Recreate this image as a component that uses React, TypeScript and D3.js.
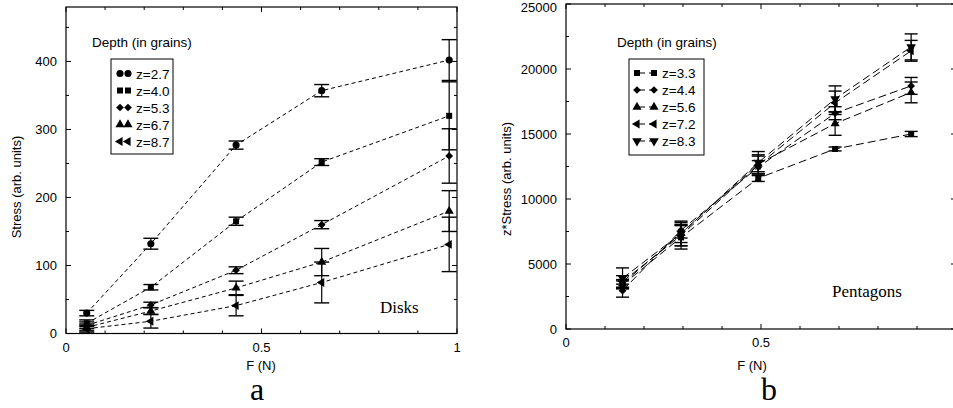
import React from "react";
import * as d3 from "d3";

// ---------- Data ----------
const disksF = [0.053, 0.217, 0.435, 0.654, 0.98];
const disksSeries = ["z=2.7", "z=4.0", "z=5.3", "z=6.7", "z=8.7"];
const disksMarkers = ["circle", "square", "diamond", "triangle", "left"];
const disksZ27 = [30, 132, 277, 357, 402];
const disksZ40 = [15, 68, 165, 252, 320];
const disksZ53 = [12, 42, 93, 160, 261];
const disksZ67 = [9, 33, 67, 105, 180];
const disksZ87 = [7, 18, 41, 75, 131];
const disksErr27 = [4, 8, 6, 9, 30];
const disksErr40 = [5, 4, 6, 5, 50];
const disksErr53 = [5, 4, 5, 6, 40];
const disksErr67 = [5, 5, 10, 20, 30];
const disksErr87 = [5, 10, 15, 30, 40];
const disksYTicks = [0, 100, 200, 300, 400];
const disksXTicks = [0, 0.5, 1];

const pentF = [0.145, 0.295, 0.493, 0.69, 0.885];
const pentSeries = ["z=3.3", "z=4.4", "z=5.6", "z=7.2", "z=8.3"];
const pentMarkers = ["square", "diamond", "triangle", "left", "down"];
const pentZ33 = [3400, 7050, 11600, 13850, 15000];
const pentZ44 = [2950, 7600, 12450, 16600, 18700];
const pentZ56 = [3500, 7350, 12700, 15800, 18200];
const pentZ72 = [3650, 7200, 12600, 17400, 21400];
const pentZ83 = [3900, 7350, 12800, 17700, 21700];
const pentErr33 = [300, 900, 250, 150, 200];
const pentErr44 = [500, 600, 500, 500, 650];
const pentErr56 = [300, 700, 600, 900, 800];
const pentErr72 = [450, 800, 800, 900, 800];
const pentErr83 = [800, 950, 850, 1000, 1000];
const pentYTicks = [0, 5000, 10000, 15000, 20000, 25000];
const pentXTicks = [0, 0.5];

const SANS = "'Liberation Sans', Arial, Helvetica, sans-serif";
const SERIF = "'Liberation Serif', 'Times New Roman', serif";

function markerPath(kind: string): { d: string; rot: number } {
  const sym = d3.symbol();
  switch (kind) {
    case "circle":
      return { d: sym.type(d3.symbolCircle).size(40)() as string, rot: 0 };
    case "square":
      return { d: sym.type(d3.symbolSquare).size(36)() as string, rot: 0 };
    case "diamond":
      return { d: sym.type(d3.symbolSquare).size(30)() as string, rot: 45 };
    case "triangle":
      return { d: sym.type(d3.symbolTriangle).size(36)() as string, rot: 0 };
    case "left":
      return { d: sym.type(d3.symbolTriangle).size(34)() as string, rot: -90 };
    case "down":
      return { d: sym.type(d3.symbolTriangle).size(40)() as string, rot: 180 };
  }
  return { d: "", rot: 0 };
}

function Marker({ kind, x, y }: { kind: string; x: number; y: number }) {
  const m = markerPath(kind);
  return <path d={m.d} transform={`translate(${x},${y}) rotate(${m.rot})`} fill="#000" />;
}

type PanelProps = {
  x0: number; x1: number; y0: number; y1: number;
  yMax: number; yMinorStep: number; yTicks: number[]; xTicks: number[];
  F: number[]; values: number[][]; errs: number[][];
  names: string[]; markers: string[];
  dash: string; capW: number;
  yLabel: string; yLabelX: number; yLabelY: number;
  xLabelX: number; xLabelY: number;
  depthX: number; depthY: number;
  legend: { x: number; y: number; w: number; h: number; row0: number; rowStep: number; m1: number; m2: number; tx: number; joined: boolean };
  note: string; noteX: number; noteY: number;
  letter: string; letterX: number; letterY: number;
};

function Panel(p: PanelProps) {
  const xs = d3.scaleLinear().domain([0, 1]).range([p.x0, p.x1]);
  const ys = d3.scaleLinear().domain([0, p.yMax]).range([p.y0, p.y1]);
  const line = d3.line<number>().x((_, i) => xs(p.F[i])).y((v) => ys(v));
  const xMinor = d3.range(0, 1.0001, 0.1);
  const yMinor = d3.range(0, p.yMax + 0.001, p.yMinorStep);
  const major = 5, minor = 3;
  const isMajorX = (v: number) => Math.abs(v * 2 - Math.round(v * 2)) < 1e-6;
  const isMajorY = (v: number) => p.yTicks.some((t) => Math.abs(t - v) < 1e-6);
  return (
    <g>
      <rect x={p.x0} y={p.y1} width={p.x1 - p.x0} height={p.y0 - p.y1} fill="none" stroke="#000" strokeWidth={1.2} />
      {xMinor.map((v, i) => {
        const L = isMajorX(v) ? major : minor;
        return (
          <g key={"xt" + i}>
            <line x1={xs(v)} x2={xs(v)} y1={p.y0} y2={p.y0 - L} stroke="#000" strokeWidth={1} />
            <line x1={xs(v)} x2={xs(v)} y1={p.y1} y2={p.y1 + L} stroke="#000" strokeWidth={1} />
          </g>
        );
      })}
      {yMinor.map((v, i) => {
        const L = isMajorY(v) ? major : minor;
        return (
          <g key={"yt" + i}>
            <line x1={p.x0} x2={p.x0 + L} y1={ys(v)} y2={ys(v)} stroke="#000" strokeWidth={1} />
            <line x1={p.x1} x2={p.x1 - L} y1={ys(v)} y2={ys(v)} stroke="#000" strokeWidth={1} />
          </g>
        );
      })}
      {p.yTicks.map((v) => (
        <text key={"yl" + v} x={p.x0 - 9} y={Math.max(ys(v) + 4.5, 12)} textAnchor="end" fontFamily={SANS} fontSize={13}>{v}</text>
      ))}
      {p.xTicks.map((v) => (
        <text key={"xl" + v} x={xs(v)} y={p.y0 + 18} textAnchor="middle" fontFamily={SANS} fontSize={13}>{v}</text>
      ))}
      <text x={p.xLabelX} y={p.xLabelY} textAnchor="middle" fontFamily={SANS} fontSize={13}>F (N)</text>
      <text transform={`translate(${p.yLabelX},${p.yLabelY}) rotate(-90)`} textAnchor="middle" fontFamily={SANS} fontSize={13}>{p.yLabel}</text>
      {p.values.map((vals, si) => (
        <g key={"s" + si}>
          <path d={line(vals) as string} fill="none" stroke="#000" strokeWidth={1} strokeDasharray={p.dash} />
          {vals.map((v, i) => {
            const cx = xs(p.F[i]);
            const e = p.errs[si][i];
            const yt = ys(v + e), yb = ys(v - e);
            return (
              <g key={"e" + i}>
                <line x1={cx} x2={cx} y1={yt} y2={yb} stroke="#000" strokeWidth={1.2} />
                <line x1={cx - p.capW / 2} x2={cx + p.capW / 2} y1={yt} y2={yt} stroke="#000" strokeWidth={1.4} />
                <line x1={cx - p.capW / 2} x2={cx + p.capW / 2} y1={yb} y2={yb} stroke="#000" strokeWidth={1.4} />
                <Marker kind={p.markers[si]} x={cx} y={ys(v)} />
              </g>
            );
          })}
        </g>
      ))}
      <text x={p.depthX} y={p.depthY} fontFamily={SANS} fontSize={13.5}>Depth (in grains)</text>
      <rect x={p.legend.x} y={p.legend.y} width={p.legend.w} height={p.legend.h} fill="#fff" stroke="#000" strokeWidth={1} />
      {p.names.map((n, i) => {
        const yy = p.legend.row0 + i * p.legend.rowStep;
        return (
          <g key={"lg" + i}>
            {p.legend.joined && (
              <line x1={p.legend.m1} x2={p.legend.m2} y1={yy} y2={yy} stroke="#000" strokeWidth={1} strokeDasharray={p.dash} />
            )}
            <Marker kind={p.markers[i]} x={p.legend.m1} y={yy} />
            <Marker kind={p.markers[i]} x={p.legend.m2} y={yy} />
            <text x={p.legend.tx} y={yy + 5} fontFamily={SANS} fontSize={13.5}>{n}</text>
          </g>
        );
      })}
      <text x={p.noteX} y={p.noteY} fontFamily={SERIF} fontSize={17}>{p.note}</text>
      <text x={p.letterX} y={p.letterY} textAnchor="middle" fontFamily={SERIF} fontSize={32}>{p.letter}</text>
    </g>
  );
}

export default function App() {
  return (
    <svg width={953} height={408} style={{ position: "absolute", left: 0, top: 0, background: "#fff" }}>
      <rect x={0} y={0} width={953} height={408} fill="#fff" />
      <Panel
        x0={66} x1={457} y0={333.5} y1={7} yMax={480} yMinorStep={50}
        yTicks={disksYTicks} xTicks={disksXTicks}
        F={disksF}
        values={[disksZ27, disksZ40, disksZ53, disksZ67, disksZ87]}
        errs={[disksErr27, disksErr40, disksErr53, disksErr67, disksErr87]}
        names={disksSeries} markers={disksMarkers}
        dash="4,3" capW={15}
        yLabel="Stress (arb. units)" yLabelX={21} yLabelY={187}
        xLabelX={261} xLabelY={370}
        depthX={92} depthY={47}
        legend={{ x: 111, y: 59, w: 62, h: 95, row0: 73.5, rowStep: 17, m1: 120, m2: 128, tx: 136, joined: false }}
        note="Disks" noteX={380} noteY={313}
        letter="a" letterX={257} letterY={400}
      />
      <Panel
        x0={566} x1={956} y0={329} y1={4} yMax={25000} yMinorStep={2500}
        yTicks={pentYTicks} xTicks={pentXTicks}
        F={pentF}
        values={[pentZ33, pentZ44, pentZ56, pentZ72, pentZ83]}
        errs={[pentErr33, pentErr44, pentErr56, pentErr72, pentErr83]}
        names={pentSeries} markers={pentMarkers}
        dash="8,4" capW={13}
        yLabel="z*Stress (arb. units)" yLabelX={511} yLabelY={179}
        xLabelX={752} xLabelY={370}
        depthX={617} depthY={47}
        legend={{ x: 629, y: 59, w: 75, h: 96, row0: 73, rowStep: 17, m1: 637, m2: 654, tx: 662, joined: true }}
        note="Pentagons" noteX={832} noteY={297}
        letter="b" letterX={769} letterY={400}
      />
    </svg>
  );
}
